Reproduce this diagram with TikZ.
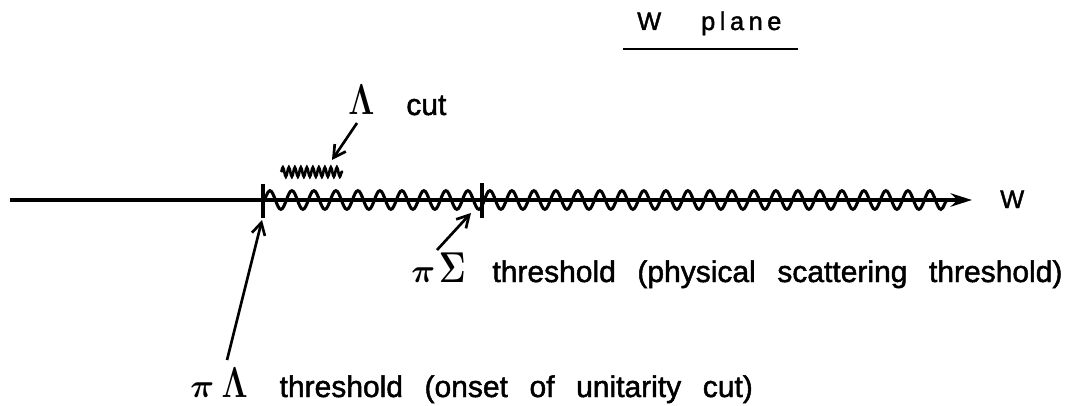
\documentclass[tikz,border=0pt]{standalone}
\usepackage[no-math]{fontspec}
\usepackage{bm}
\usepackage{graphicx}
\setmainfont[FakeBold=1.6]{Liberation Sans}
\newfontfamily\spacedfont[LetterSpace=18,FakeBold=1.6]{Liberation Sans}
\usetikzlibrary{arrows.meta,decorations.pathmorphing}
\newcommand\gkbig{\fontsize{28}{30}\selectfont}
\newcommand\tallgk[1]{\scalebox{1}[1.3]{$\mathbf{#1}$}}
\newcommand\widewords[1]{{\spaceskip=0.72em plus 0.1em\relax #1}}
\begin{document}
\begin{tikzpicture}[x=0.75pt,y=-0.75pt,
  axisline/.style={line width=2.8pt},
  wavy/.style={line width=2.3pt, decorate,
    decoration={snake, segment length=16.5pt, amplitude=7pt}},
  smallwave/.style={line width=2pt, decorate,
    decoration={snake, segment length=4.5pt, amplitude=3.5pt}},
  tickmark/.style={line width=2.8pt},
  pointer/.style={line width=2pt, -{Straight Barb[length=9pt,width=10pt]}},
  lbl/.style={font=\fontsize{22.5}{26}\selectfont, inner sep=0pt, anchor=base west},
]
\useasboundingbox (0,0) rectangle (1070,406);

% title
\node[lbl, font=\spacedfont\fontsize{19}{22}\selectfont] (wplane) at (637,30) {W\hspace{30pt}plane};
\coordinate (ulA) at (623,49);
\coordinate (ulB) at (798,49);
\draw[line width=1.8pt] (ulA) -- (ulB);

% axis
\coordinate (axstart) at (10,200);
\coordinate (axend) at (972,200);
\coordinate (lamth) at (263,200);
\coordinate (sigth) at (482,200);
\coordinate (waveend) at (955,200);
\draw[axisline, -{Stealth[length=16pt,width=10pt]}] (axstart) -- (axend);
\draw[wavy] (lamth) -- (waveend);
\node[lbl, font=\fontsize{19}{22}\selectfont] (wlab) at (1000,208) {W};

% threshold ticks
\coordinate (lamtickA) at (263,184);
\coordinate (lamtickB) at (263,218);
\coordinate (sigtickA) at (482,183);
\coordinate (sigtickB) at (482,218);
\draw[tickmark] (lamtickA) -- (lamtickB);
\draw[tickmark] (sigtickA) -- (sigtickB);

% Lambda cut
\coordinate (cwA) at (281,172);
\coordinate (cwB) at (343,172);
\draw[smallwave] (cwA) -- (cwB);
\node[lbl] (lamcut) at (348,115) {{\gkbig\tallgk{\Lambda}}\hspace{24pt}cut};
\coordinate (cuttail) at (357,123);
\coordinate (cuthead) at (332,160);
\draw[pointer] (cuttail) -- (cuthead);

% pi Sigma threshold
\node[lbl] (sigtext) at (411,282) {{\gkbig$\bm{\pi}\mkern2mu$\tallgk{\Sigma}}\hspace{20pt}\widewords{threshold (physical scattering threshold)}};
\coordinate (sigtail) at (437,250);
\coordinate (sighead) at (471,213);
\draw[pointer] (sigtail) -- (sighead);

% pi Lambda threshold
\node[lbl] (lamtext) at (190,397) {{\gkbig$\bm{\pi}\mkern4mu$\tallgk{\Lambda}}\hspace{24pt}\widewords{threshold (onset of unitarity cut)}};
\coordinate (lamtail) at (227,360);
\coordinate (lamhead) at (262,220);
\draw[pointer] (lamtail) -- (lamhead);
\end{tikzpicture}
\end{document}
